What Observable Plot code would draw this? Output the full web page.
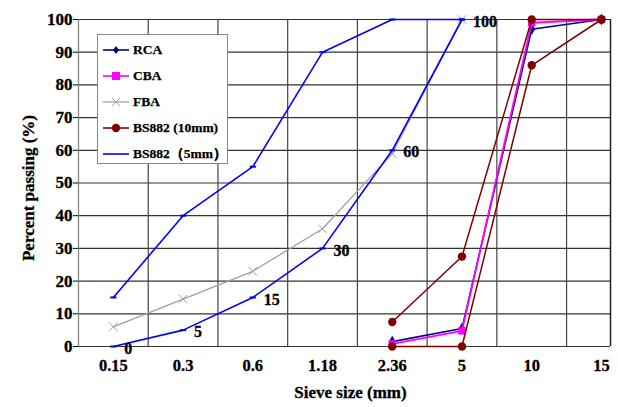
<!DOCTYPE html>
<html><head><meta charset="utf-8">
<script src="https://cdn.jsdelivr.net/npm/d3@7"></script>
<script src="https://cdn.jsdelivr.net/npm/@observablehq/plot@0.6"></script>
<style>
body{margin:0;background:#fff;}
#wrap{position:relative;width:618px;height:407px;}
#wrap svg text{stroke:#000;stroke-width:0.3px;paint-order:normal;}
#legend{position:absolute;left:97px;top:34px;width:131px;height:130px;background:#fff;border:1px solid #888;box-sizing:border-box;font-family:"Liberation Serif",serif;font-weight:bold;font-size:13.5px;color:#000;-webkit-text-stroke:0.25px #000;}
.row{position:absolute;left:0;height:20px;display:flex;align-items:center;}
.row svg{margin-left:5px;margin-right:4px;}
</style>
</head><body>
<div id="wrap"></div>
<script>
const sizes = ["0.15","0.3","0.6","1.18","2.36","5","10","15"];
const rca      = [null, null, null, null, 1.5, 5.5, 97, 100];
const cba      = [null, null, null, null, 0.8, 4.8, 99, 100];
const fba      = [6, 14.5, 23, 36, 59, 100, null, null];
const bs10Upper = [null, null, null, null, 7.5, 27.5, 100, 100];
const bs10Lower = [null, null, null, null, 0, 0, 86, 100];
const bs5Upper = [15, 40, 55, 90, 100, 100, null, null];
const bs5Lower = [0, 5, 15, 30, 60, 100, null, null];
const bs5Labels = ["0","5","15","30","60","100", null, null];

const seriesNames = ["RCA","CBA","FBA","BS882 (10mm)","BS882（5mm）"];
const colors = ["#000080","#ff00ff","#a0a0a0","#800000","#0000ff"];

function rows(arr, extra){ return arr.map((v,i)=>({i, v, label: extra ? extra[i] : null})).filter(d=>d.v!=null); }

const dash = {draw(ctx, size){ const r = Math.sqrt(size)/2; ctx.moveTo(-r,0); ctx.lineTo(r,0);} };

const font = "Liberation Serif, serif";
const gridX = d3.range(-0.5, 7, 1);
const yTicks = d3.range(0, 101, 10);

const plot = Plot.plot({
  width: 618, height: 407,
  marginLeft: 78, marginRight: 8, marginTop: 19, marginBottom: 61,
  style: {fontFamily: font, fontWeight: "bold", fontSize: "16px", color: "#000", background: "#fff"},
  x: {type: "linear", domain: [-0.5, 7.13]},
  y: {domain: [0, 100]},
  marks: [
    Plot.ruleY(yTicks, {stroke: "#333", strokeWidth: 1.2}),
    Plot.ruleX(gridX, {y1: 0, y2: 100, stroke: "#444", strokeWidth: 1.2}),
    Plot.ruleX([7.13], {y1: 0, y2: 100, stroke: "#222", strokeWidth: 1.5}),
    Plot.ruleX([-0.5], {y1: 0, y2: 100, stroke: "#888", strokeWidth: 1}),
    Plot.axisY({ticks: yTicks, tickSize: 5, tickPadding: 1, fontSize: 17, label: null}),
    Plot.axisX({ticks: d3.range(0, 8), tickFormat: i => sizes[i], tickSize: 0, tickPadding: 13, fontSize: 16.5, label: null}),
    // FBA
    Plot.line(rows(fba), {x: "i", y: "v", stroke: colors[2], strokeWidth: 1.3}),
    Plot.dot(rows(fba), {x: "i", y: "v", symbol: "times", r: 4, stroke: colors[2], strokeWidth: 1}),
    // BS882 5mm
    Plot.line(rows(bs5Upper), {x: "i", y: "v", stroke: colors[4], strokeWidth: 1.6}),
    Plot.line(rows(bs5Lower), {x: "i", y: "v", stroke: colors[4], strokeWidth: 1.6}),
    Plot.dot(rows(bs5Upper), {x: "i", y: "v", symbol: dash, r: 3.5, stroke: colors[4], strokeWidth: 2}),
    Plot.dot(rows(bs5Lower), {x: "i", y: "v", symbol: dash, r: 3.5, stroke: colors[4], strokeWidth: 2}),
    Plot.text(rows(bs5Lower, bs5Labels), {x: "i", y: "v", text: "label", textAnchor: "start", dx: 11, dy: 2, fontSize: 16, fontWeight: "bold", fill: "#000"}),
    // RCA
    Plot.line(rows(rca), {x: "i", y: "v", stroke: colors[0], strokeWidth: 1.6}),
    Plot.dot(rows(rca), {x: "i", y: "v", symbol: "diamond", r: 3.5, fill: colors[0]}),
    // CBA
    Plot.line(rows(cba), {x: "i", y: "v", stroke: colors[1], strokeWidth: 1.8}),
    Plot.dot(rows(cba), {x: "i", y: "v", symbol: "square", r: 4.2, fill: colors[1]}),
    // BS882 10mm
    Plot.line(rows(bs10Upper), {x: "i", y: "v", stroke: colors[3], strokeWidth: 1.5}),
    Plot.line(rows(bs10Lower), {x: "i", y: "v", stroke: colors[3], strokeWidth: 1.5}),
    Plot.dot(rows(bs10Upper), {x: "i", y: "v", r: 4.2, fill: colors[3]}),
    Plot.dot(rows(bs10Lower), {x: "i", y: "v", r: 4.2, fill: colors[3]}),
    // axis titles
    Plot.text(["Sieve size (mm)"], {frameAnchor: "bottom", dy: 51, dx: 6, text: d => d, fontSize: 17, fontWeight: "bold", fill: "#000"}),
    Plot.text(["Percent passing (%)"], {frameAnchor: "left", textAnchor: "middle", dx: -50, dy: 5, rotate: -90, text: d => d, fontSize: 17, fontWeight: "bold", fill: "#000"})
  ]
});
const wrap = document.getElementById("wrap");
wrap.appendChild(plot);

// legend
const leg = document.createElement("div");
leg.id = "legend";
const markers = [
  c => `<line x1="0" y1="6" x2="26" y2="6" stroke="${c}" stroke-width="1.6"/><path d="M13,2 L16,6 L13,10 L10,6 Z" fill="${c}"/>`,
  c => `<line x1="0" y1="6" x2="26" y2="6" stroke="${c}" stroke-width="1.6"/><rect x="9" y="2" width="8" height="8" fill="${c}"/>`,
  c => `<line x1="0" y1="6" x2="26" y2="6" stroke="${c}" stroke-width="1.3"/><path d="M9,2 L17,10 M17,2 L9,10" stroke="${c}" stroke-width="1"/>`,
  c => `<line x1="0" y1="6" x2="26" y2="6" stroke="${c}" stroke-width="1.6"/><circle cx="13" cy="6" r="4.2" fill="${c}"/>`,
  c => `<line x1="0" y1="6" x2="26" y2="6" stroke="${c}" stroke-width="1.6"/>`
];
seriesNames.forEach((name, k) => {
  const r = document.createElement("div");
  r.className = "row";
  r.style.top = (5 + k * 26) + "px";
  r.innerHTML = `<svg width="26" height="12">${markers[k](colors[k])}</svg><span>${name}</span>`;
  leg.appendChild(r);
});
wrap.appendChild(leg);
</script>
</body></html>
